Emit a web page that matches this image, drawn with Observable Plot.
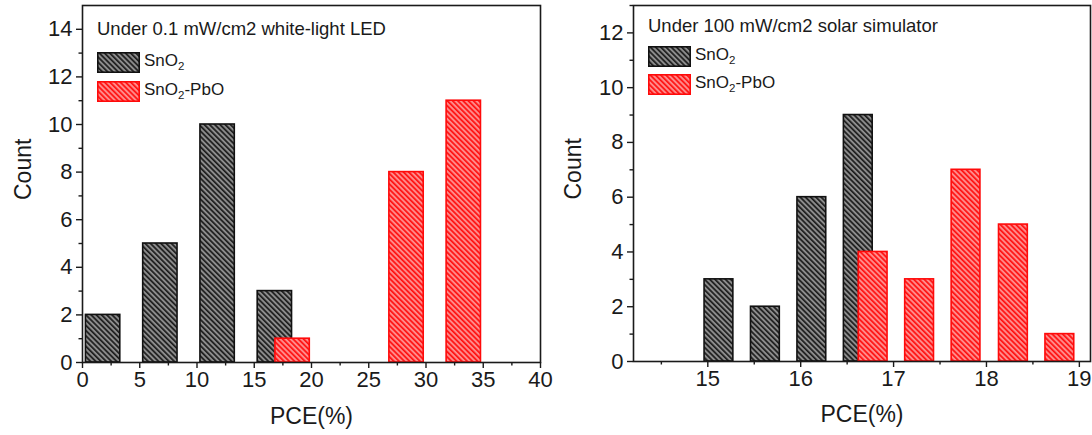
<!DOCTYPE html>
<html>
<head>
<meta charset="utf-8">
<script src="https://cdn.jsdelivr.net/npm/d3@7"></script>
<script src="https://cdn.jsdelivr.net/npm/@observablehq/plot@0.6"></script>
<style>
  body { margin: 0; background: #fff; font-family: "Liberation Sans", Arial, sans-serif; }
  #wrap { position: relative; width: 1092px; height: 435px; display: flex; overflow: hidden; }
  .legend { position: absolute; color: #1a1a1a; font-size: 17px; line-height: 1; }
  .legend .title { font-size: 18.5px; white-space: nowrap; }
  .legend .row { display: flex; align-items: center; height: 21px; position: absolute; white-space: nowrap; }
  .legend .row svg { display: block; margin-right: 4px; }
  .legend sub { font-size: 11.5px; vertical-align: -4px; }
</style>
</head>
<body>
<svg width="0" height="0" style="position:absolute">
  <defs>
    <pattern id="hatchBlack" patternUnits="userSpaceOnUse" width="3.7" height="3.7" patternTransform="rotate(-45)">
      <rect width="3.7" height="3.7" fill="#8c8c8c"></rect>
      <rect width="1.7" height="3.7" fill="#1c1c1c"></rect>
    </pattern>
    <pattern id="hatchRed" patternUnits="userSpaceOnUse" width="3.7" height="3.7" patternTransform="rotate(-45)">
      <rect width="3.7" height="3.7" fill="#ff8a8a"></rect>
      <rect width="1.7" height="3.7" fill="#ff1010"></rect>
    </pattern>
  </defs>
</svg>
<div id="wrap"></div>
<script>
// ---------- Data ----------
// Left panel: under 0.1 mW/cm2 white-light LED
const leftTitle = "Under 0.1 mW/cm2 white-light LED";
const leftSnO2Center = [1.8, 6.8, 11.8, 16.8];
const leftSnO2Count  = [2, 5, 10, 3];
const leftPbOCenter  = [18.35, 28.3, 33.3];
const leftPbOCount   = [1, 8, 11];
const leftBinWidth   = 3;
const leftXMajor = [0, 5, 10, 15, 20, 25, 30, 35, 40];
const leftXMinor = [2.5, 7.5, 12.5, 17.5, 22.5, 27.5, 32.5, 37.5];
const leftYMajor = [0, 2, 4, 6, 8, 10, 12, 14];
const leftYMinor = [1, 3, 5, 7, 9, 11, 13];

// Right panel: under 100 mW/cm2 solar simulator
const rightTitle = "Under 100 mW/cm2 solar simulator";
const rightSnO2Center = [15.12, 15.62, 16.12, 16.62];
const rightSnO2Count  = [3, 2, 6, 9];
const rightPbOCenter  = [16.78, 17.28, 17.78, 18.29, 18.79];
const rightPbOCount   = [4, 3, 7, 5, 1];
const rightBinWidth   = 0.31;
const rightXMajor = [15, 16, 17, 18, 19];
const rightXMinor = [14.5, 15.5, 16.5, 17.5, 18.5];
const rightYMajor = [0, 2, 4, 6, 8, 10, 12];
const rightYMinor = [1, 3, 5, 7, 9, 11, 13];

const xLabel = "PCE(%)";
const yLabel = "Count";

function bins(centers, counts, w) {
  return centers.map((c, i) => ({x1: c - w / 2, x2: c + w / 2, count: counts[i]}));
}

const FONT = "'Liberation Sans', Arial, Helvetica, sans-serif";
const INK = "#1a1a1a";

function panel(o) {
  return Plot.plot({
    width: o.width, height: 435,
    marginLeft: o.ml, marginRight: o.mr, marginTop: 5, marginBottom: o.mb,
    style: {fontFamily: FONT, color: INK, background: "transparent", overflow: "visible"},
    x: {domain: o.xDomain},
    y: {domain: o.yDomain},
    marks: [
      Plot.rectY(bins(o.sCenter, o.sCount, o.w), {x1: "x1", x2: "x2", y: "count", fill: "url(#hatchBlack)", stroke: "#111", strokeWidth: 1.6}),
      Plot.rectY(bins(o.pCenter, o.pCount, o.w), {x1: "x1", x2: "x2", y: "count", fill: "url(#hatchRed)", stroke: "#ff0a0a", strokeWidth: 1.6}),
      Plot.frame({stroke: INK, strokeWidth: 1.6}),
      Plot.axisX({ticks: o.xMajor, tickSize: 6, tickPadding: 3, fontSize: 22, label: null, tickFormat: d => String(d), strokeWidth: 1.4}),
      Plot.axisX({ticks: o.xMinor, tickSize: 3.5, label: null, text: null, strokeWidth: 1.4}),
      Plot.axisY({ticks: o.yMajor, tickSize: 6, tickPadding: 4, fontSize: 22, label: null, tickFormat: d => String(d), strokeWidth: 1.4}),
      Plot.axisY({ticks: o.yMinor, tickSize: 3.5, label: null, text: null, strokeWidth: 1.4}),
      Plot.text([xLabel], {text: d => d, frameAnchor: "bottom", lineAnchor: "middle", dy: o.xLabDy, fontSize: 23, fill: INK}),
      Plot.text([yLabel], {text: d => d, frameAnchor: "left", lineAnchor: "middle", rotate: -90, dx: o.yLabDx, dy: 16, fontSize: 23, fill: INK})
    ]
  });
}

const wrap = document.getElementById("wrap");

const left = panel({
  width: 560, ml: 82, mr: 20, mb: 73,
  xDomain: [0, 40], yDomain: [0, 15],
  sCenter: leftSnO2Center, sCount: leftSnO2Count,
  pCenter: leftPbOCenter, pCount: leftPbOCount, w: leftBinWidth,
  xMajor: leftXMajor, xMinor: leftXMinor, yMajor: leftYMajor, yMinor: leftYMinor,
  xLabDy: 54, yLabDx: -59
});
const right = panel({
  width: 532, ml: 73, mr: 2, mb: 74,
  xDomain: [14.2, 19.12], yDomain: [0, 13],
  sCenter: rightSnO2Center, sCount: rightSnO2Count,
  pCenter: rightPbOCenter, pCount: rightPbOCount, w: rightBinWidth,
  xMajor: rightXMajor, xMinor: rightXMinor, yMajor: rightYMajor, yMinor: rightYMinor,
  xLabDy: 53, yLabDx: -60
});
wrap.appendChild(left);
wrap.appendChild(right);

function legend(title, x, titleTop, rowTop1, rowTop2) {
  const sw = (id, stroke) => `<svg width="43" height="21"><rect x="0.8" y="0.8" width="41.4" height="19.4" fill="url(#${id})" stroke="${stroke}" stroke-width="1.6"/></svg>`;
  const d = document.createElement("div");
  d.className = "legend";
  d.style.left = x + "px"; d.style.top = "0px";
  d.innerHTML =
    `<div class="title" style="position:absolute;top:${titleTop}px;left:0">${title}</div>` +
    `<div class="row" style="top:${rowTop1}px">${sw("hatchBlack", "#111")}<span>SnO<sub>2</sub></span></div>` +
    `<div class="row" style="top:${rowTop2}px">${sw("hatchRed", "#ff0a0a")}<span>SnO<sub>2</sub>-PbO</span></div>`;
  wrap.appendChild(d);
}
legend(leftTitle, 97, 20, 52, 81);
legend(rightTitle, 648, 17, 46, 74);
</script>
</body>
</html>
